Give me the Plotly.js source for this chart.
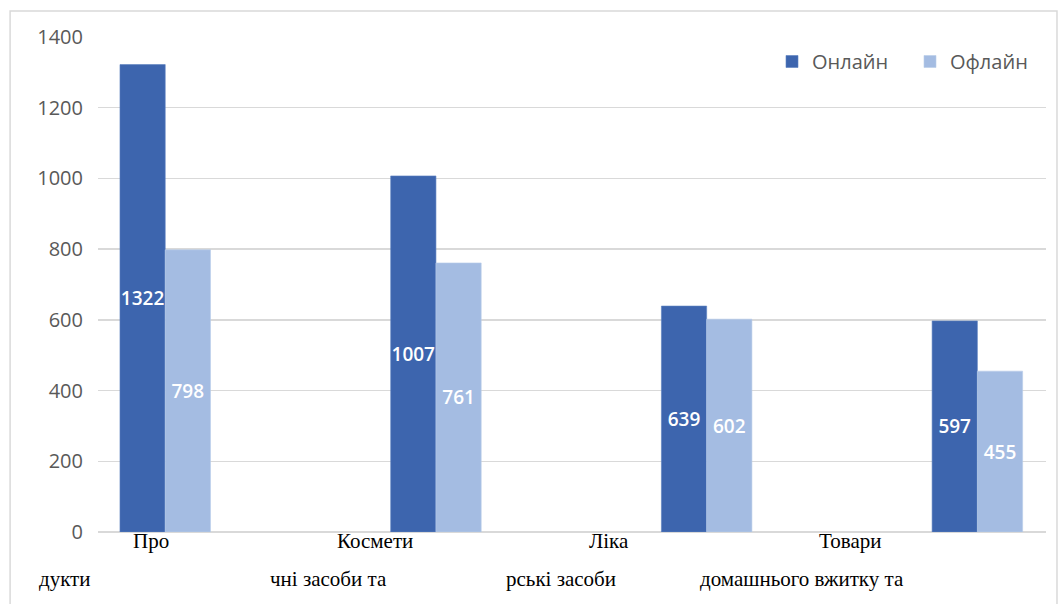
<!DOCTYPE html>
<html>
<head>
<meta charset="utf-8">
<script src="https://cdn.plot.ly/plotly-3.0.1.min.js"></script>
<style>
  html, body { margin: 0; padding: 0; background: #ffffff; }
  #chart { width: 1059px; height: 604px; }
</style>
</head>
<body>
<div id="chart"></div>
<script>
// ---- data ----
const categories = ['Продукти', 'Косметичні засоби та', 'Лікарські засоби', 'Товари домашнього вжитку та'];
const labelTop = ['Про', 'Космети', 'Ліка', 'Товари'];
const labelBottom = ['дукти', 'чні засоби та', 'рські засоби', 'домашнього вжитку та'];
const seriesNames = ['Онлайн', 'Офлайн'];
const online = [1322, 1007, 639, 597];
const offline = [798, 761, 602, 455];
const yTicks = [0, 200, 400, 600, 800, 1000, 1200, 1400];

// ---- layout constants (pixel geometry of the reference) ----
const W = 1059, H = 604;
const plotL = 98, plotR = 1047, plotT = 37, plotB = 532;
const groupPx0 = 165.3, groupStep = 271, barPx = 45.3;
const toX = px => (px - groupPx0) / groupStep;
const toPaperX = px => (px - plotL) / (plotR - plotL);
const toPaperY = py => (plotB - py) / (plotB - plotT);
const bw = barPx / groupStep;

const labelFont = { family: 'Open Sans, sans-serif', size: 19, color: '#ffffff', weight: 600 };
const serifFont = { family: 'Liberation Serif, Times New Roman, serif', size: 21, color: '#000000' };

const traces = [
  {
    type: 'bar', name: seriesNames[0], x: categories, y: online,
    width: bw, offset: -bw,
    marker: { color: '#3D65AE', line: { color: '#5B7FC0', width: 0.6 } },
    text: online.map(String), textposition: 'inside', insidetextanchor: 'middle',
    textangle: 0, constraintext: 'none', textfont: labelFont, hoverinfo: 'skip'
  },
  {
    type: 'bar', name: seriesNames[1], x: categories, y: offline,
    width: bw, offset: 0,
    marker: { color: '#A4BCE2', line: { color: '#B8CCEA', width: 0.6 } },
    text: offline.map(String), textposition: 'inside', insidetextanchor: 'middle',
    textangle: 0, constraintext: 'none', textfont: labelFont, hoverinfo: 'skip'
  }
];

// broken category label pieces (as in the reference)
const topPx = [151.5, 375.5, 609.5, 851];
const botPx = [65, 328.7, 561.7, 802.5];
const annotations = [];
categories.forEach((c, i) => {
  annotations.push({
    xref: 'paper', yref: 'paper', x: toPaperX(topPx[i]), y: toPaperY(541),
    xanchor: 'center', yanchor: 'middle', showarrow: false, text: labelTop[i], font: serifFont
  });
  annotations.push({
    xref: 'paper', yref: 'paper', x: toPaperX(botPx[i]), y: toPaperY(579),
    xanchor: 'center', yanchor: 'middle', showarrow: false, text: labelBottom[i], font: serifFont
  });
});

const layout = {
  width: W, height: H,
  margin: { l: plotL, r: W - plotR, t: plotT, b: H - plotB, pad: 0 },
  paper_bgcolor: '#ffffff', plot_bgcolor: '#ffffff',
  showlegend: true,
  legend: {
    orientation: 'h', x: toPaperX(772), xanchor: 'left', y: toPaperY(42), yanchor: 'top',
    entrywidth: 93, entrywidthmode: 'pixels',
    font: { family: 'Open Sans, sans-serif', size: 20, color: '#595959' },
    bgcolor: 'rgba(0,0,0,0)', itemclick: false, traceorder: 'normal'
  },
  xaxis: {
    type: 'category', range: [toX(plotL), toX(plotR)],
    showticklabels: false, showgrid: false, zeroline: false, showline: false, ticks: '',
    fixedrange: true
  },
  yaxis: {
    range: [0, 1400], tickvals: yTicks, ticktext: yTicks.map(String),
    showgrid: true, gridcolor: '#D9D9D9', gridwidth: 1.5,
    zeroline: true, zerolinecolor: '#D9D9D9', zerolinewidth: 1.5,
    showline: false, ticks: '', ticklabelstandoff: 14,
    tickfont: { family: 'Open Sans, sans-serif', size: 20, color: '#595959' },
    fixedrange: true
  },
  bargap: 0, bargroupgap: 0,
  annotations: annotations,
  shapes: [{
    type: 'rect', xref: 'paper', yref: 'paper',
    x0: toPaperX(10), x1: toPaperX(1058), y0: toPaperY(620), y1: toPaperY(11),
    line: { color: '#D9D9D9', width: 1.5 }, fillcolor: 'rgba(0,0,0,0)', layer: 'below'
  }]
};

Plotly.newPlot('chart', traces, layout, { displayModeBar: false, staticPlot: true });
</script>
</body>
</html>
